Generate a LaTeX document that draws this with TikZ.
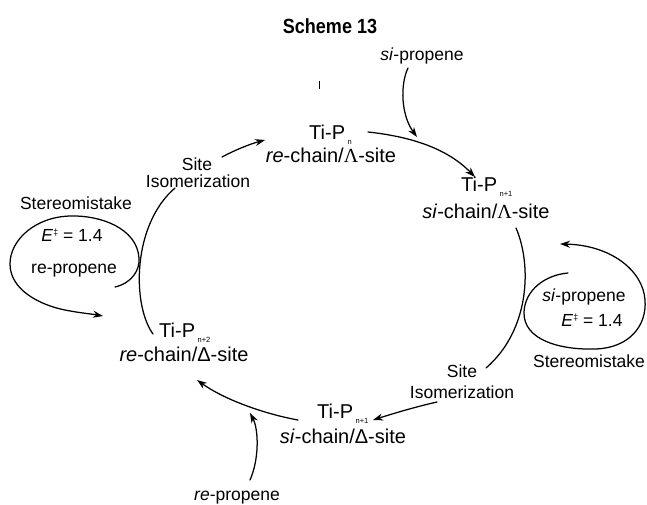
\documentclass[tikz,border=0pt]{standalone}
\usepackage{fontspec}
\setmainfont{Liberation Sans}
\newfontfamily\lserif{Liberation Serif}
\usetikzlibrary{arrows.meta}
\newcommand\subidx[1]{\hspace{2.5pt}\raisebox{-5pt}{\fontsize{7.5}{7.5}\selectfont #1}}
\newcommand\Edag{\textit{E}\raisebox{6pt}{\fontsize{9}{9}\selectfont ‡}}
\begin{document}
\begin{tikzpicture}[x=1pt,y=-1pt,
  big/.style={font=\fontsize{20}{20}\selectfont, inner sep=0pt},
  small/.style={font=\fontsize{17.5}{18}\selectfont, inner sep=0pt},
  conn/.style={line width=1.25pt, line cap=round},
  arr/.style={conn,-{Stealth[length=10pt,width=7pt]}},
]
\fill[white] (0,0) rectangle (647,504);
\useasboundingbox (0,0) rectangle (647,504);

% title
\node[anchor=base, inner sep=0pt, font=\fontsize{20.5}{20}\selectfont\bfseries] (title) at (330,33) {\scalebox{0.88}[1]{Scheme 13}};

% top
\node[small, anchor=base] (sitop) at (422,60) {\textit{si}-propene};
\node[big, anchor=base west] (tpn) at (309,139) {Ti-P\subidx{n}};
\node[big, anchor=base] (rechL) at (331,162) {\textit{re}-chain/{\lserif Λ}-site};

% left site isomerization
\node[small, anchor=base] (siteL) at (197,170) {Site};
\node[small, anchor=base] (isoL) at (198,187) {Isomerization};

% left stereomistake
\node[small, anchor=base] (stL) at (76,209) {Stereomistake};
\node[small, anchor=base] (eL) at (72,241) {\Edag{} = 1.4};
\node[small, anchor=base] (rpL) at (74,273) {re-propene};

% Ti-Pn+2
\node[big, anchor=base west] (tpn2) at (159,337) {Ti-P\subidx{n+2}};
\node[big, anchor=base] (rechD) at (184,361) {\textit{re}-chain/Δ-site};

% Ti-Pn+1 top
\node[big, anchor=base west] (tpn1a) at (461,191) {Ti-P\subidx{n+1}};
\node[big, anchor=base] (sichL) at (486,218) {\textit{si}-chain/{\lserif Λ}-site};

% right stereomistake
\node[small, anchor=base] (siR) at (584,301) {\textit{si}-propene};
\node[small, anchor=base] (eR) at (592,326) {\Edag{} = 1.4};
\node[small, anchor=base] (stR) at (589,367) {Stereomistake};

% right site isomerization
\node[small, anchor=base] (siteR) at (462,377) {Site};
\node[small, anchor=base] (isoR) at (462,398) {Isomerization};

% Ti-Pn+1 bottom
\node[big, anchor=base west] (tpn1b) at (317,418) {Ti-P\subidx{n+1}};
\node[big, anchor=base] (sichD) at (343,443) {\textit{si}-chain/Δ-site};

% bottom re-propene
\node[small, anchor=base] (rpB) at (237,500) {\textit{re}-propene};

% connector end points
\coordinate (a1) at (368,132);
\coordinate (a2) at (475,177);
\coordinate (b1) at (408,68);
\coordinate (b2) at (417,137);
\coordinate (c1) at (516,228);
\coordinate (c2) at (486,368);
\coordinate (d1) at (568,273);
\coordinate (d2) at (560,244);
\coordinate (e1) at (437,402);
\coordinate (e2) at (373,420);
\coordinate (f1) at (298,420);
\coordinate (f2) at (197,380);
\coordinate (g1) at (250,480);
\coordinate (g2) at (250,413);
\coordinate (h1) at (153,334);
\coordinate (h2) at (175,188);
\coordinate (i1) at (115,287);
\coordinate (i2) at (103,316);
\coordinate (j1) at (222,157);
\coordinate (j2) at (265,140);
\coordinate (k1) at (319,81);
\coordinate (k2) at (319,89);

% Ti-Pn -> Ti-Pn+1
\draw[arr] (a1) .. controls (405,136) and (445,146) .. (a2);
% si-propene in
\draw[arr] (b1) .. controls (400,85) and (401,115) .. (b2);
% right arc
\draw[conn] (c1) .. controls (532,265) and (530,330) .. (c2);
% right stereomistake loop
\draw[arr] (d1) .. controls (545,275) and (525,290) .. (524,312)
  .. controls (523,340) and (560,350) .. (595,349)
  .. controls (630,348) and (647,325) .. (645,300)
  .. controls (643,270) and (610,245) .. (d2);
% site isomerization -> Ti-Pn+1 bottom
\draw[arr] (e1) .. controls (415,407) and (395,413) .. (e2);
% Ti-Pn+1 bottom -> Ti-Pn+2
\draw[arr] (f1) .. controls (265,414) and (225,400) .. (f2);
% re-propene in
\draw[arr] (g1) .. controls (259,460) and (259,430) .. (g2);
% left arc
\draw[conn] (h1) .. controls (132,305) and (132,225) .. (h2);
% left stereomistake loop
\draw[arr] (i1) .. controls (132,283) and (140,270) .. (139,258)
  .. controls (137,228) and (100,215) .. (70,216)
  .. controls (35,217) and (10,240) .. (10,264)
  .. controls (10,290) and (40,305) .. (65,310)
  .. controls (80,313) and (92,314) .. (i2);
% left site isomerization -> Ti-Pn
\draw[arr] (j1) .. controls (235,150) and (250,144) .. (j2);
% stray tick
\draw[line width=0.6pt] (k1) -- (k2);
\end{tikzpicture}
\end{document}
